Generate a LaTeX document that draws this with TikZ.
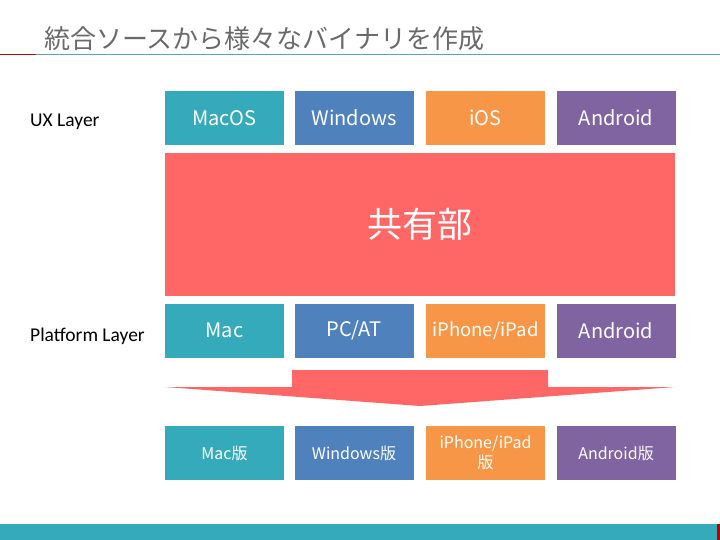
\documentclass[tikz,border=0pt]{standalone}
\usepackage{fontspec}
\setmainfont{Carlito}
\newfontfamily\jpfont{Noto Sans CJK JP}
\definecolor{cteal}{HTML}{35AABB}
\definecolor{cblue}{HTML}{4F81BD}
\definecolor{corange}{HTML}{F79646}
\definecolor{cpurple}{HTML}{8064A2}
\definecolor{cred}{HTML}{FF6666}
\definecolor{ctitle}{HTML}{6A6A6A}
\definecolor{cdarkred}{HTML}{C00000}
\definecolor{cline}{HTML}{5FA3AE}
\begin{document}
\begin{tikzpicture}[x=1pt,y=-1pt,
  box/.style={minimum width=119pt,minimum height=54pt,inner sep=0pt,text=white,font=\jpfont\fontsize{20}{22}\selectfont,align=center},
  smallbox/.style={box,font=\jpfont\fontsize{16}{20}\selectfont},
  lbl/.style={anchor=west,inner sep=0pt,font=\fontsize{19.5}{22}\selectfont,text=black}]
\useasboundingbox (0,0) rectangle (720,540);
% title
\node[anchor=base west,inner sep=0pt,text=ctitle,font=\jpfont\fontsize{26}{29}\selectfont] (title) at (44,49) {統合ソースから様々なバイナリを作成};
\draw[cdarkred,line width=1.5pt] (0,54.5) -- (36,54.5);
\draw[cline,line width=1.5pt] (36,54.5) -- (720,54.5);
% labels
\node[lbl] (ux) at (30,122) {UX Layer};
\node[lbl] (pl) at (30,336) {Platform Layer};
% row 1
\node[box,fill=cteal] (r1a) at (224.5,118) {\raisebox{-2pt}{MacOS}};
\node[box,fill=cblue] (r1b) at (354,118) {\raisebox{-2pt}{Windows}};
\node[box,fill=corange] (r1c) at (485.5,118) {\raisebox{-2pt}{iOS}};
\node[box,fill=cpurple] (r1d) at (616,118) {\raisebox{-2pt}{Android}};
% shared
\node[fill=cred,minimum width=510pt,minimum height=143pt,inner sep=0pt,text=white,font=\jpfont\fontsize{35}{38}\selectfont] (shared) at (420,224.5) {\raisebox{-3pt}{共有部}};
% row 2
\node[box,fill=cteal] (r2a) at (224.5,330.5) {\raisebox{-2pt}{Mac}};
\node[box,fill=cblue] (r2b) at (354,330.5) {\raisebox{-2pt}{PC/AT}};
\node[box,fill=corange,font=\jpfont\fontsize{18.5}{20}\selectfont] (r2c) at (485.5,330.5) {\raisebox{-2pt}{iPhone/iPad}};
\node[box,fill=cpurple] (r2d) at (616,330.5) {\raisebox{-2pt}{Android}};
% arrow
\fill[cred] (292,370) -- (548,370) -- (548,387) -- (675,387) -- (420,406) -- (165,387) -- (292,387) -- cycle;
% row 3
\node[smallbox,fill=cteal] (r3a) at (224.5,453) {\raisebox{-2pt}{Mac版}};
\node[smallbox,fill=cblue] (r3b) at (354,453) {\raisebox{-2pt}{Windows版}};
\node[smallbox,fill=corange] (r3c) at (485.5,453) {iPhone/iPad\\版};
\node[smallbox,fill=cpurple] (r3d) at (616,453) {\raisebox{-2pt}{Android版}};
% bottom bar
\fill[cteal] (0,524) rectangle (717,540);
\fill[cdarkred] (717,524) rectangle (720,540);
\end{tikzpicture}
\end{document}
